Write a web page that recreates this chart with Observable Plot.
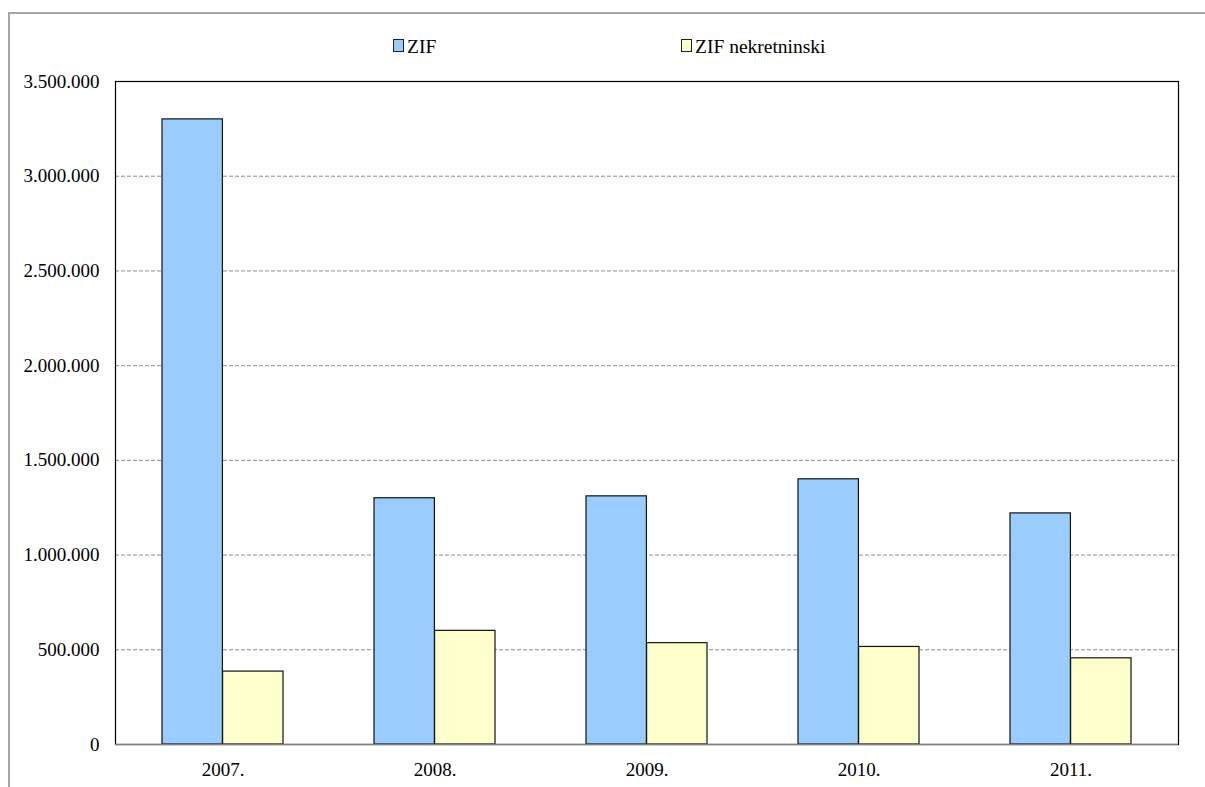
<!DOCTYPE html>
<html>
<head>
<meta charset="utf-8">
<script src="https://cdn.jsdelivr.net/npm/d3@7"></script>
<script src="https://cdn.jsdelivr.net/npm/@observablehq/plot@0.6"></script>
<style>
  html, body { margin: 0; padding: 0; background: #fff; overflow: hidden; }
  #chart { position: absolute; left: 0; top: 0; }
</style>
</head>
<body>
<div id="chart"></div>
<script>
const years = ["2007.", "2008.", "2009.", "2010.", "2011."];
const zif = [3300000, 1300000, 1310000, 1400000, 1220000];
const zifNekretninski = [385000, 600000, 535000, 515000, 455000];
const seriesNames = ["ZIF", "ZIF nekretninski"];
const seriesColors = ["#99ccff", "#ffffcc"];
const yTicks = [0, 500000, 1000000, 1500000, 2000000, 2500000, 3000000, 3500000];

const loc = d3.formatLocale({decimal: ",", thousands: ".", grouping: [3], currency: ["", ""]});
const fmt = loc.format(",d");

const W = 1205, H = 787;
const mL = 115, mR = 27, mT = 81, mB = 43;
const padIn = 0.43, padOut = 0.215;
const step = (W - mL - mR) / (years.length - padIn + 2 * padOut);
const half = step * (1 - padIn) / 2;
const serif = '"Liberation Serif", "Times New Roman", serif';

const rowsA = years.map((y, i) => ({year: y, value: zif[i]}));
const rowsB = years.map((y, i) => ({year: y, value: zifNekretninski[i]}));

// outer chart-area border (top and left) plus legend in the top margin
const legendPos = [393, 681];
function decorMark(index, scales, values, dims, context) {
  const g = d3.select(context.document.createElementNS("http://www.w3.org/2000/svg", "g"));
  g.append("path")
    .attr("d", `M9,${H}V13H${W}`)
    .attr("fill", "none").attr("stroke", "#a6a6a6").attr("stroke-width", 2);
  seriesNames.forEach((name, i) => {
    g.append("rect")
      .attr("x", legendPos[i] + 0.5).attr("y", 39.5)
      .attr("width", 10).attr("height", 12)
      .attr("fill", seriesColors[i]).attr("stroke", "#222").attr("stroke-width", 1);
    g.append("text")
      .attr("x", legendPos[i] + 14).attr("y", 52.5)
      .attr("fill", "#000")
      .attr("text-anchor", "start")
      .style("text-anchor", "start")
      .attr("font-family", serif)
      .attr("font-size", 19.5)
      .text(name);
  });
  return g.node();
}

const chart = Plot.plot({
  width: W,
  height: H,
  marginLeft: mL,
  marginRight: mR,
  marginTop: mT,
  marginBottom: mB,
  style: {fontFamily: serif, fontSize: "19px", color: "#000", background: "#fff"},
  x: {domain: years, paddingInner: padIn, paddingOuter: padOut, align: 0.5, label: null},
  y: {domain: [0, 3500000], label: null},
  marks: [
    decorMark,
    Plot.ruleY(yTicks.filter(t => t > 0 && t < 3500000), {stroke: "#8c8c8c", strokeDasharray: "4,2", strokeWidth: 1}),
    Plot.barY(rowsA, {x: "year", y: "value", fill: seriesColors[0], stroke: "#111", strokeWidth: 1.2, insetRight: half}),
    Plot.barY(rowsB, {x: "year", y: "value", fill: seriesColors[1], stroke: "#111", strokeWidth: 1.2, insetLeft: half}),
    Plot.frame({stroke: "#000", strokeWidth: 1.2}),
    Plot.ruleY([0], {stroke: "#808080", strokeWidth: 1.5}),
    Plot.axisY({ticks: yTicks, tickFormat: fmt, tickSize: 0, tickPadding: 16, label: null}),
    Plot.axisX({tickSize: 0, tickPadding: 18, label: null})
  ]
});
document.getElementById("chart").appendChild(chart);
</script>
</body>
</html>
